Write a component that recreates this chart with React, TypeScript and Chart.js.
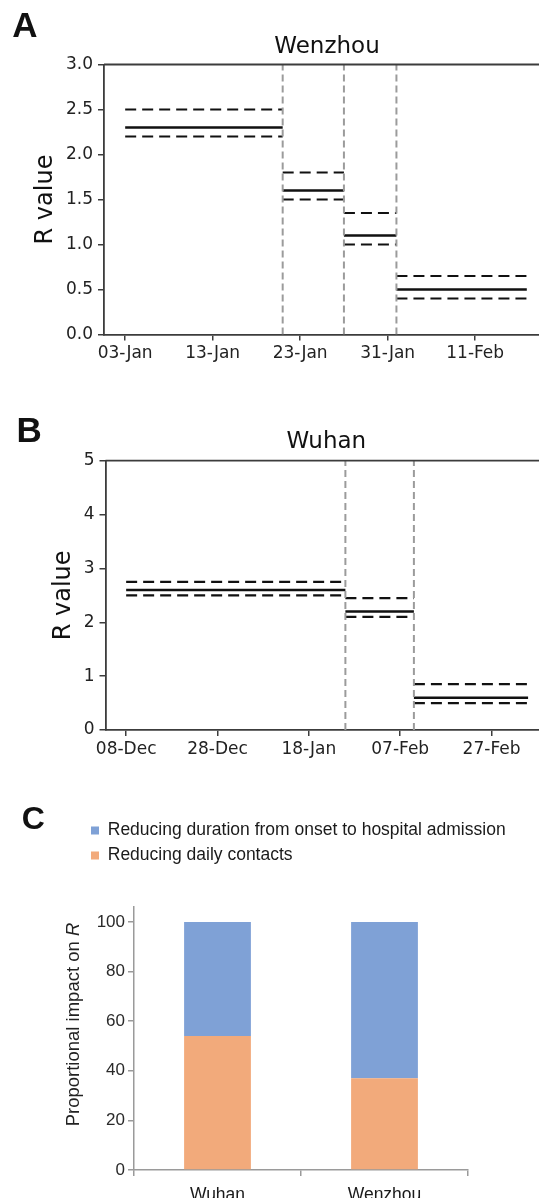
import React, { useEffect, useRef } from 'react';
import { Chart, registerables, layouts } from 'chart.js';

Chart.register(...registerables);

// ---------- Panel A: Wenzhou ----------
const wenzhouTickLabels = ['03-Jan', '13-Jan', '23-Jan', '31-Jan', '11-Feb'];
// segment edges in tick-index units (0 = first tick label)
const wenzhouEdges = [0, 1.8, 2.5, 3.1, 4.59];
const wenzhouR = [2.3, 1.6, 1.1, 0.5];
const wenzhouUpper = [2.5, 1.8, 1.35, 0.65];
const wenzhouLower = [2.2, 1.5, 1.0, 0.4];
const wenzhouChangePoints = [1.8, 2.5, 3.1];
const wenzhouYTicks = [0, 0.5, 1.0, 1.5, 2.0, 2.5, 3.0];

// ---------- Panel B: Wuhan ----------
const wuhanTickLabels = ['08-Dec', '28-Dec', '18-Jan', '07-Feb', '27-Feb'];
const wuhanEdges = [0, 2.4, 3.15, 4.4];
const wuhanR = [2.6, 2.2, 0.6];
const wuhanUpper = [2.75, 2.45, 0.85];
const wuhanLower = [2.5, 2.1, 0.5];
const wuhanChangePoints = [2.4, 3.15];
const wuhanYTicks = [0, 1, 2, 3, 4, 5];

// ---------- Panel C: proportional impact on R ----------
const cities = ['Wuhan', 'Wenzhou'];
const contactsShare = [54, 37];
const durationShare = [46, 63];
const impactTicks = [0, 20, 40, 60, 80, 100];

const SANS_MPL = 'DejaVu Sans';
const SANS_XL = '"Liberation Sans", Arial, sans-serif';

type Pt = { x: number; y: number | null };

// horizontal step segments, separated by gaps
function steps(edges: number[], values: number[]): Pt[] {
  const pts: Pt[] = [];
  values.forEach((v, i) => {
    if (i > 0) pts.push({ x: edges[i], y: null });
    pts.push({ x: edges[i], y: v }, { x: edges[i + 1], y: v });
  });
  return pts;
}

// full-height vertical markers at each change point
function verticals(xs: number[], yMax: number): Pt[] {
  const pts: Pt[] = [];
  xs.forEach((x, i) => {
    if (i > 0) pts.push({ x, y: null });
    pts.push({ x, y: 0 }, { x, y: yMax });
  });
  return pts;
}

// top and right spines
const framePlugin = {
  id: 'frame',
  afterDraw(chart: any) {
    const { ctx, chartArea } = chart;
    const { left, right, top, bottom } = chartArea;
    ctx.save();
    ctx.strokeStyle = '#3c3c3c';
    ctx.lineWidth = 1.8;
    ctx.beginPath();
    ctx.moveTo(left, top);
    ctx.lineTo(right, top);
    ctx.lineTo(right, bottom);
    ctx.stroke();
    ctx.restore();
  },
};

type StepPanel = {
  title: string;
  tickLabels: string[];
  edges: number[];
  r: number[];
  upper: number[];
  lower: number[];
  changePoints: number[];
  yTicks: number[];
  yMax: number;
  yDigits: number;
  xMin: number;
  xMax: number;
  width: number;
  height: number;
  areaLeft: number;
  areaRight: number;
  areaTop: number;
  areaBottom: number;
  titleCenter: number;
  yTitleCenter: number;
};

function stepChartConfig(p: StepPanel): any {
  const tickFont = { family: SANS_MPL, size: 17 };
  const titleFontSize = 23;
  const titleLine = titleFontSize * 1.2;
  const titlePadTop = p.titleCenter - titleLine / 2;
  const titlePadBottom = p.areaTop - titlePadTop - titleLine;
  const yTitleFont = 24;
  const spine = '#3c3c3c';
  return {
    type: 'line',
    data: {
      datasets: [
        {
          data: verticals(p.changePoints, p.yMax),
          borderColor: '#9b9b9b',
          borderWidth: 2,
          borderDash: [7, 4],
          pointRadius: 0,
          spanGaps: false,
        },
        {
          data: steps(p.edges, p.upper),
          borderColor: '#111',
          borderWidth: 2.2,
          borderDash: [11, 6],
          pointRadius: 0,
          spanGaps: false,
        },
        {
          data: steps(p.edges, p.lower),
          borderColor: '#111',
          borderWidth: 2.2,
          borderDash: [11, 6],
          pointRadius: 0,
          spanGaps: false,
        },
        {
          data: steps(p.edges, p.r),
          borderColor: '#111',
          borderWidth: 2.4,
          pointRadius: 0,
          spanGaps: false,
        },
      ],
    },
    options: {
      responsive: false,
      animation: false,
      devicePixelRatio: 1,
      layout: { padding: { left: 0, right: p.width - p.areaRight, top: 0, bottom: 0 } },
      plugins: {
        legend: { display: false },
        tooltip: { enabled: false },
        title: {
          display: true,
          text: p.title,
          fullSize: false,
          color: '#111',
          font: { family: SANS_MPL, size: titleFontSize, weight: 'normal' },
          padding: { top: titlePadTop, bottom: titlePadBottom },
        },
      },
      scales: {
        x: {
          type: 'linear',
          min: p.xMin,
          max: p.xMax,
          afterBuildTicks: (s: any) => {
            s.ticks = p.tickLabels.map((_, i) => ({ value: i }));
          },
          afterFit: (s: any) => {
            s.height = p.height - p.areaBottom;
          },
          ticks: {
            autoSkip: false,
            maxRotation: 0,
            padding: 3,
            color: '#222',
            font: tickFont,
            callback: (v: number) => p.tickLabels[Math.round(v)] ?? '',
          },
          grid: { drawOnChartArea: false, drawTicks: true, tickLength: 6, tickColor: spine, lineWidth: 1.5 },
          border: { color: spine, width: 1.8 },
        },
        y: {
          type: 'linear',
          min: 0,
          max: p.yMax,
          afterBuildTicks: (s: any) => {
            s.ticks = p.yTicks.map((v) => ({ value: v }));
          },
          afterFit: (s: any) => {
            s.width = p.areaLeft;
          },
          ticks: {
            padding: 5,
            color: '#222',
            font: tickFont,
            callback: (v: number) => v.toFixed(p.yDigits),
          },
          grid: { drawOnChartArea: false, drawTicks: true, tickLength: 6, tickColor: spine, lineWidth: 1.5 },
          border: { color: spine, width: 1.8 },
          title: {
            display: true,
            text: 'R value',
            color: '#111',
            font: { family: SANS_MPL, size: yTitleFont },
            padding: { top: p.yTitleCenter - (yTitleFont * 1.2) / 2, bottom: 0 },
          },
        },
      },
    },
    plugins: [framePlugin],
  };
}

// empty layout boxes used as fixed gaps around the plot area
function makeSpacers(boxes: { position: string; size: number; weight: number }[]) {
  return {
    id: 'spacers',
    start(chart: any) {
      boxes.forEach((b) => {
        const horizontal = b.position === 'top' || b.position === 'bottom';
        const box: any = {
          position: b.position,
          weight: b.weight,
          fullSize: false,
          options: {},
          top: 0,
          left: 0,
          right: 0,
          bottom: 0,
          width: 0,
          height: 0,
          isHorizontal() {
            return horizontal;
          },
          update(maxWidth: number, maxHeight: number) {
            if (horizontal) {
              this.width = maxWidth;
              this.height = b.size;
            } else {
              this.width = b.size;
              this.height = maxHeight;
            }
          },
          draw() {},
        };
        layouts.addBox(chart, box);
      });
    },
  };
}

// rotated axis title with an italic R
const impactTitlePlugin = {
  id: 'impactTitle',
  afterDraw(chart: any) {
    const { ctx, chartArea } = chart;
    const size = 18.5;
    const plain = 'Proportional impact on ';
    const ital = 'R';
    ctx.save();
    ctx.fillStyle = '#222';
    ctx.textBaseline = 'middle';
    ctx.textAlign = 'left';
    ctx.font = `${size}px ${SANS_XL}`;
    const w1 = ctx.measureText(plain).width;
    ctx.font = `italic ${size}px ${SANS_XL}`;
    const w2 = ctx.measureText(ital).width;
    const cx = chartArea.left - 60;
    const cy = (chartArea.top + chartArea.bottom) / 2 - 14;
    ctx.translate(cx, cy);
    ctx.rotate(-Math.PI / 2);
    const start = -(w1 + w2) / 2;
    ctx.font = `${size}px ${SANS_XL}`;
    ctx.fillText(plain, start, 0);
    ctx.font = `italic ${size}px ${SANS_XL}`;
    ctx.fillText(ital, start + w1, 0);
    ctx.restore();
  },
};

function impactChartConfig(): any {
  const axisGray = '#9a9a9a';
  const font = { family: SANS_XL, size: 17 };
  return {
    type: 'bar',
    data: {
      labels: cities,
      datasets: [
        {
          label: 'Reducing daily contacts',
          data: contactsShare,
          backgroundColor: '#f2aa7b',
          borderWidth: 0,
        },
        {
          label: 'Reducing duration from onset to hospital admission',
          data: durationShare,
          backgroundColor: '#7fa1d6',
          borderWidth: 0,
        },
      ],
    },
    options: {
      responsive: false,
      animation: false,
      devicePixelRatio: 1,
      layout: { padding: { left: 83.5, top: 24.25, right: 0, bottom: 0 } },
      datasets: { bar: { categoryPercentage: 1, barPercentage: 0.4 } },
      plugins: {
        tooltip: { enabled: false },
        legend: {
          position: 'top',
          align: 'start',
          reverse: true,
          labels: {
            boxWidth: 8,
            boxHeight: 8,
            padding: 7.5,
            color: '#1a1a1a',
            font: { family: SANS_XL, size: 17.5 },
          },
        },
      },
      scales: {
        x: {
          stacked: true,
          afterFit: (s: any) => {
            s.height = 28;
          },
          ticks: { color: '#1a1a1a', font: { family: SANS_XL, size: 17.5 }, padding: 9 },
          grid: { offset: true, drawOnChartArea: false, drawTicks: true, tickLength: 6, tickColor: axisGray, lineWidth: 1.5 },
          border: { color: axisGray, width: 1.5 },
        },
        y: {
          stacked: true,
          min: 0,
          max: 106,
          afterBuildTicks: (s: any) => {
            s.ticks = impactTicks.map((v) => ({ value: v }));
          },
          afterFit: (s: any) => {
            s.width = 50.5;
          },
          ticks: { color: '#2a2a2a', font, padding: 3 },
          grid: { drawOnChartArea: false, drawTicks: true, tickLength: 6, tickColor: axisGray, lineWidth: 1.5 },
          border: { color: axisGray, width: 1.5 },
        },
      },
    },
    plugins: [
      makeSpacers([
        { position: 'top', size: 32.75, weight: 500 },
        { position: 'right', size: 71, weight: 500 },
      ]),
      impactTitlePlugin,
    ],
  };
}

const wenzhouPanel: StepPanel = {
  title: 'Wenzhou',
  tickLabels: wenzhouTickLabels,
  edges: wenzhouEdges,
  r: wenzhouR,
  upper: wenzhouUpper,
  lower: wenzhouLower,
  changePoints: wenzhouChangePoints,
  yTicks: wenzhouYTicks,
  yMax: 3,
  yDigits: 1,
  xMin: -0.242,
  xMax: 4.855,
  width: 560,
  height: 370,
  areaLeft: 104,
  areaRight: 550,
  areaTop: 64.5,
  areaBottom: 334.5,
  titleCenter: 47,
  yTitleCenter: 45.5,
};

const wuhanPanel: StepPanel = {
  title: 'Wuhan',
  tickLabels: wuhanTickLabels,
  edges: wuhanEdges,
  r: wuhanR,
  upper: wuhanUpper,
  lower: wuhanLower,
  changePoints: wuhanChangePoints,
  yTicks: wuhanYTicks,
  yMax: 5,
  yDigits: 0,
  xMin: -0.226,
  xMax: 4.607,
  width: 560,
  height: 400,
  areaLeft: 105.5,
  areaRight: 547,
  areaTop: 80.7,
  areaBottom: 350,
  titleCenter: 62.5,
  yTitleCenter: 63.6,
};

function useChart(ref: React.RefObject<HTMLCanvasElement | null>, build: () => any) {
  useEffect(() => {
    if (!ref.current) return;
    let chart: Chart | null = null;
    try {
      chart = new Chart(ref.current, build());
    } catch (e) {
      console.error(e);
    }
    return () => {
      if (chart) chart.destroy();
    };
  }, []);
}

const letterStyle = (left: number, top: number, size: number): React.CSSProperties => ({
  position: 'absolute',
  left,
  top,
  fontFamily: SANS_XL,
  fontWeight: 'bold',
  fontSize: size,
  lineHeight: `${size}px`,
  color: '#111',
});

export default function App() {
  const aRef = useRef<HTMLCanvasElement>(null);
  const bRef = useRef<HTMLCanvasElement>(null);
  const cRef = useRef<HTMLCanvasElement>(null);

  useChart(aRef, () => stepChartConfig(wenzhouPanel));
  useChart(bRef, () => stepChartConfig(wuhanPanel));
  useChart(cRef, impactChartConfig);

  return (
    <div
      style={{
        position: 'absolute',
        left: 0,
        top: 0,
        width: 539,
        height: 1198,
        overflow: 'hidden',
        background: '#fff',
      }}
    >
      <div style={{ position: 'absolute', left: 0, top: 0 }}>
        <canvas ref={aRef} width={560} height={370} style={{ display: 'block' }} />
      </div>
      <div style={{ position: 'absolute', left: 0, top: 380 }}>
        <canvas ref={bRef} width={560} height={400} style={{ display: 'block' }} />
      </div>
      <div style={{ position: 'absolute', left: 0, top: 790 }}>
        <canvas ref={cRef} width={539} height={408} style={{ display: 'block' }} />
      </div>
      <div style={letterStyle(12.2, 7.1, 35)}>A</div>
      <div style={letterStyle(16.4, 412.1, 35)}>B</div>
      <div style={letterStyle(21.7, 801.6, 32)}>C</div>
    </div>
  );
}
